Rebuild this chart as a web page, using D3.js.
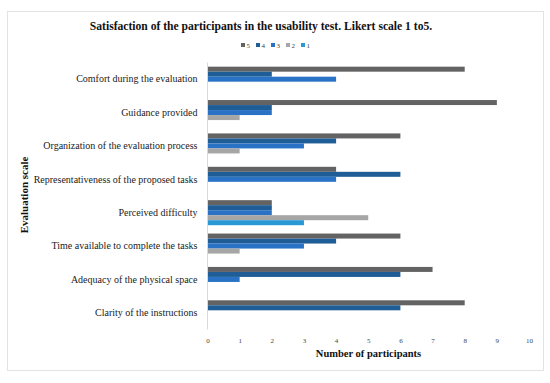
<!DOCTYPE html>
<html><head><meta charset="utf-8">
<script src="https://cdn.jsdelivr.net/npm/d3@7"></script>
<style>body{margin:0;background:#fff}svg{display:block}text{font-family:"Liberation Serif","DejaVu Serif",serif}</style>
</head><body>
<svg id="c" width="550" height="383"></svg>
<script>
const categories = ["Comfort during the evaluation","Guidance provided","Organization of the evaluation process","Representativeness of the proposed tasks","Perceived difficulty","Time available to complete the tasks","Adequacy of the physical space","Clarity of the instructions"];
const seriesNames = ["5","4","3","2","1"];
const s5 = [8,9,6,4,2,6,7,8];
const s4 = [2,2,4,6,2,4,6,6];
const s3 = [4,2,3,4,2,3,1,0];
const s2 = [0,1,1,0,5,1,0,0];
const s1 = [0,0,0,0,3,0,0,0];
const xTicks = [0,1,2,3,4,5,6,7,8,9,10];
const colors = ["#636363","#1f5d96","#2a72c6","#a6a6a6","#2b98d6"];
const series = [s5,s4,s3,s2,s1];

(function(){
const svg = d3.select("#c");
svg.append("rect").attr("x",7.5).attr("y",11.5).attr("width",536).attr("height",359).attr("fill","#fff").attr("stroke","#e3e3e3");

const pLeft=207.5, pRight=529, pTop=62.5, pBottom=329.5;
const x = d3.scaleLinear().domain([0,10]).range([pLeft,pRight]);
const y0 = d3.scaleBand().domain(categories).range([pTop,pBottom]).paddingInner(0.25).paddingOuter(0.125);
const y1 = d3.scaleBand().domain(seriesNames).range([0,y0.bandwidth()]);

svg.append("text").attr("x",261).attr("y",30).attr("text-anchor","middle").attr("font-weight","bold").attr("font-size","11.6px").attr("fill","#111").text("Satisfaction of the participants in the usability test. Likert scale 1 to5.");

const lg = svg.append("g");
let lx = 241;
seriesNames.forEach((n,i)=>{
  lg.append("rect").attr("x",lx).attr("y",43).attr("width",4).attr("height",4).attr("fill",colors[i]);
  lg.append("text").attr("x",lx+5.5).attr("y",47.5).attr("font-size","7px").attr("fill","#444").text(n);
  lx += 15;
});

const g = svg.append("g");
categories.forEach((c,ci)=>{
  series.forEach((s,si)=>{
    if(s[ci]<=0) return;
    g.append("rect").attr("x",x(0)).attr("y",y0(c)+y1(seriesNames[si])).attr("width",x(s[ci])-x(0)).attr("height",y1.bandwidth()).attr("fill",colors[si]);
  });
});

svg.append("line").attr("x1",pLeft).attr("x2",pLeft).attr("y1",pTop).attr("y2",pBottom).attr("stroke","#d9d9d9");

const yAxis = d3.axisLeft(y0).tickSize(0).tickPadding(10);
const ya = svg.append("g").attr("transform",`translate(${pLeft},0)`).call(yAxis);
ya.select(".domain").remove();
ya.selectAll("text").attr("font-size","10px").attr("fill","#222").style("font-family","'Liberation Serif',serif");

const xAxis = d3.axisBottom(x).tickValues(xTicks).tickSize(0).tickPadding(7);
const xa = svg.append("g").attr("transform",`translate(0,${pBottom+2})`).call(xAxis);
xa.select(".domain").remove();
xa.selectAll("text").attr("font-size","7px").attr("fill","#444").style("font-family","'Liberation Serif',serif");

svg.append("text").attr("x",368.5).attr("y",357).attr("text-anchor","middle").attr("font-weight","bold").attr("font-size","10.5px").attr("fill","#111").text("Number of participants");
svg.append("text").attr("transform","translate(28,195) rotate(-90)").attr("text-anchor","middle").attr("font-weight","bold").attr("font-size","11px").attr("fill","#111").text("Evaluation scale");
})();
</script>
</body></html>
